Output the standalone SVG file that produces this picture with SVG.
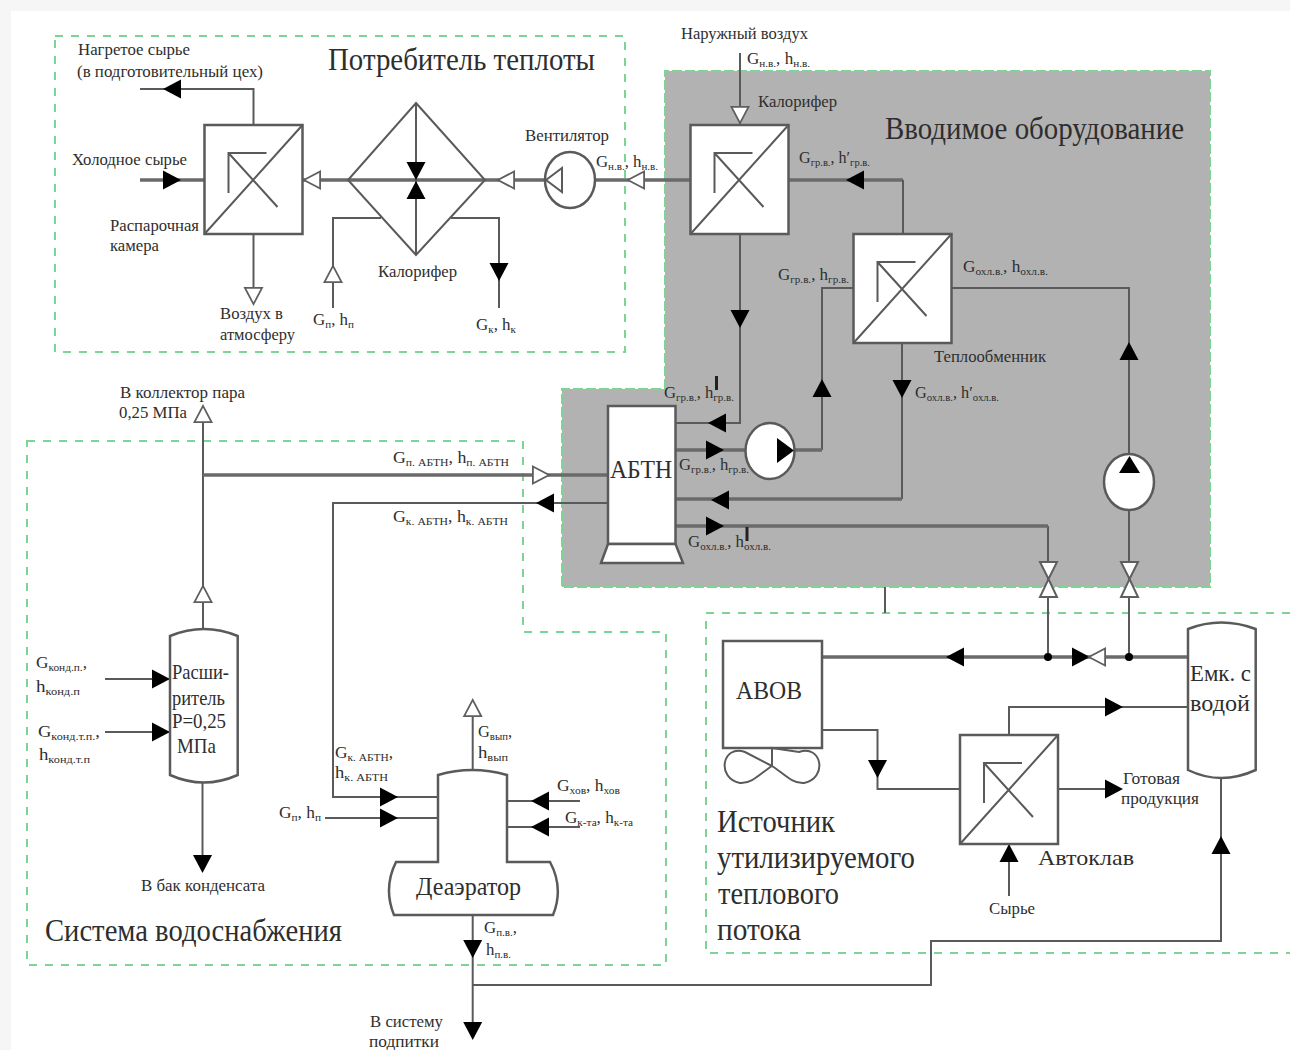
<svg xmlns="http://www.w3.org/2000/svg" xmlns:xlink="http://www.w3.org/1999/xlink" width="1290" height="1050" viewBox="0 0 1290 1050">
<style>
text{font-family:"Liberation Serif","Times New Roman",serif;fill:#2e2e2e}
.s{font-size:16px}
.m{font-size:22px}
.b{font-size:31px;fill:#2e2e2e}
.u{font-size:10.5px}
.l{fill:none;stroke:#5a5a5a;stroke-width:2}
.h{fill:none;stroke:#6a6a6a;stroke-width:3.500}
.d{fill:none;stroke:#7ad692;stroke-width:2;stroke-dasharray:8 8}
.w{fill:#fff;stroke:#5a5a5a;stroke-width:2.500}
.t{fill:none;stroke:#5a5a5a;stroke-width:2}
.k{fill:#000;stroke:none}
.o{fill:#fff;stroke:#5f5f5f;stroke-width:2}
</style>
<defs>
<path id="a" d="M-9,-9.500 L9,0 L-9,9.500Z"/>
<g id="hx">
<rect class="w" x="0" y="0" width="98" height="109"/>
<path class="t" d="M0,109 L98,0 M62,28 H24 V68 M24,28 L73,82"/>
</g>
</defs>
<rect width="1290" height="1050" fill="#f6f6f6"/>
<rect x="11" y="11" width="1279" height="1039" fill="#fff"/>

<g id="regions">
<path fill="#b2b2b2" d="M665,71 H1210 V587 H562 V389 H665Z"/>
<path class="d" style="stroke-dasharray:10 3" d="M665,389 V71 H1210 V587 H562 V389 H665"/>
<rect class="d" x="55" y="36" width="570" height="316"/>
<path class="d" d="M27,441 H523 V632 H666 V965 H27Z"/>
<path class="d" d="M1290,613 H706 V953 H1290"/>
</g>

<g id="connectors">
<path class="l" d="M253.500,125 V89 H140"/>
<path class="h" d="M140,180 H204"/>
<path class="h" d="M303,180 H545 M595,180 H690"/>
<path class="l" d="M253.500,235 V303"/>
<path class="l" d="M416,103 V255"/>
<path class="l" d="M381,218 H333 V308"/>
<path class="l" d="M451,218 H499 V308"/>
<path class="l" d="M740,53 V125"/>
<path class="l" d="M740,235 V423 H676"/>
<path class="h" d="M788,180 H903"/>
<path class="l" d="M903,180 V234"/>
<path class="l" d="M853,288 H822 V450"/>
<path class="h" d="M822,450 H795 M745,450 H676"/>
<path class="l" d="M951,288 H1129 V510 V657"/>
<path class="l" d="M902,343 V499"/>
<path class="h" d="M902,499 H676"/>
<path class="l" d="M1048,526 V657"/>
<path class="h" d="M676,526 H1048"/>
<path class="l" d="M203,630 V423"/>
<path class="h" d="M203,475 H608"/>
<path class="l" d="M608,503 H333 V797 H438"/>
<path class="l" d="M325,818 H438"/>
<path class="l" d="M507,801 H580 M507,827 H580"/>
<path class="l" d="M472.700,775 V717"/>
<path class="l" d="M472.700,915 V1030"/>
<path class="l" d="M472.700,985 H931 V941 H1221 V778"/>
<path class="l" d="M202.500,782 V860"/>
<path class="l" d="M105,679 H170 M105,732 H170"/>
<path class="h" d="M1188,657 H822"/>
<path class="l" d="M822,730 H877.500 V789 H960"/>
<path class="l" d="M1009,735 V707 H1188"/>
<path class="l" d="M1058,789 H1110"/>
<path class="l" d="M1009,843 V896"/>
<path class="l" d="M885,587 V613"/>
<g class="k">
<use xlink:href="#a" href="#a" transform="translate(172,89) rotate(180)"/>
<use xlink:href="#a" href="#a" transform="translate(172,180)"/>
<use xlink:href="#a" href="#a" transform="translate(416,171) rotate(90)"/>
<use xlink:href="#a" href="#a" transform="translate(416,190) rotate(-90)"/>
<use xlink:href="#a" href="#a" transform="translate(499,272) rotate(90)"/>
<use xlink:href="#a" href="#a" transform="translate(740,319) rotate(90)"/>
<use xlink:href="#a" href="#a" transform="translate(855,180) rotate(180)"/>
<use xlink:href="#a" href="#a" transform="translate(822,388) rotate(-90)"/>
<use xlink:href="#a" href="#a" transform="translate(902,389) rotate(90)"/>
<use xlink:href="#a" href="#a" transform="translate(1129,351) rotate(-90)"/>
<use xlink:href="#a" href="#a" transform="translate(717,423) rotate(180)"/>
<use xlink:href="#a" href="#a" transform="translate(715,450)"/>
<use xlink:href="#a" href="#a" transform="translate(720,500) rotate(180)"/>
<use xlink:href="#a" href="#a" transform="translate(715,526)"/>
<use xlink:href="#a" href="#a" transform="translate(545,503) rotate(180)"/>
<use xlink:href="#a" href="#a" transform="translate(389,797)"/>
<use xlink:href="#a" href="#a" transform="translate(389,818)"/>
<use xlink:href="#a" href="#a" transform="translate(540,801) rotate(180)"/>
<use xlink:href="#a" href="#a" transform="translate(540,827) rotate(180)"/>
<use xlink:href="#a" href="#a" transform="translate(472.700,949) rotate(90)"/>
<use xlink:href="#a" href="#a" transform="translate(472.700,1031) rotate(90)"/>
<use xlink:href="#a" href="#a" transform="translate(202.500,864) rotate(90)"/>
<use xlink:href="#a" href="#a" transform="translate(161,679)"/>
<use xlink:href="#a" href="#a" transform="translate(161,732)"/>
<use xlink:href="#a" href="#a" transform="translate(955,657) rotate(180)"/>
<use xlink:href="#a" href="#a" transform="translate(1081,657)"/>
<use xlink:href="#a" href="#a" transform="translate(877.500,769) rotate(90)"/>
<use xlink:href="#a" href="#a" transform="translate(1114,707)"/>
<use xlink:href="#a" href="#a" transform="translate(1114,789)"/>
<use xlink:href="#a" href="#a" transform="translate(1009,853) rotate(-90)"/>
<use xlink:href="#a" href="#a" transform="translate(1221,845) rotate(-90)"/>
</g>
<g class="o">
<use xlink:href="#a" href="#a" transform="translate(312,180) rotate(180) scale(.9)"/>
<use xlink:href="#a" href="#a" transform="translate(506,180) rotate(180) scale(.9)"/>
<use xlink:href="#a" href="#a" transform="translate(636,180) rotate(180) scale(.9)"/>
<use xlink:href="#a" href="#a" transform="translate(333,274) rotate(-90) scale(.9)"/>
<use xlink:href="#a" href="#a" transform="translate(253.500,296) rotate(90) scale(.9)"/>
<use xlink:href="#a" href="#a" transform="translate(740,115) rotate(90) scale(.9)"/>
<use xlink:href="#a" href="#a" transform="translate(203,414) rotate(-90) scale(.9)"/>
<use xlink:href="#a" href="#a" transform="translate(203,594) rotate(-90) scale(.9)"/>
<use xlink:href="#a" href="#a" transform="translate(541,475) scale(.9)"/>
<use xlink:href="#a" href="#a" transform="translate(472.700,708) rotate(-90) scale(.9)"/>
<use xlink:href="#a" href="#a" transform="translate(1097,657) rotate(180) scale(.9)"/>
</g>
<circle class="k" cx="1048" cy="657" r="4"/>
<circle class="k" cx="1129" cy="657" r="4"/>
</g>

<g id="consumer-exchanger"><use xlink:href="#hx" href="#hx" transform="translate(204.500,125)"/></g>
<g id="consumer-heater">
<path class="t" d="M416,103 L485,180 L416,255 L348,180Z"/>
</g>
<g id="fan">
<ellipse class="w" cx="570" cy="180" rx="25" ry="28"/>
<path class="t" d="M546,180 L562,168 V192Z"/>
</g>
<g id="heater"><use xlink:href="#hx" href="#hx" transform="translate(690.500,125)"/></g>
<g id="heat-exchanger"><use xlink:href="#hx" href="#hx" transform="translate(853.500,234)"/></g>
<g id="abtn">
<rect class="w" x="608" y="406" width="67.500" height="138"/>
<path class="w" d="M608,544 H675.500 L683,563 H601Z"/>
<text class="m" x="610" y="478" style="font-size:26px" textLength="62" lengthAdjust="spacingAndGlyphs">АБТН</text>
</g>
<g id="pump1">
<ellipse class="w" cx="770" cy="451" rx="24.500" ry="28"/>
<path class="k" d="M777,438 L794,450.500 L777,463Z"/>
</g>
<g id="pump2">
<ellipse class="w" cx="1129" cy="482" rx="25" ry="28"/>
<path class="k" d="M1119,473 L1129.500,456 L1140,473Z"/>
</g>
<g id="valve1">
<path class="o" d="M1040,562 H1057 L1048.500,579Z M1048.500,579 L1057,597 H1040Z"/>
</g>
<g id="valve2">
<path class="o" d="M1121,562 H1138 L1129.500,579Z M1129.500,579 L1138,597 H1121Z"/>
</g>
<g id="expander">
<path class="w" d="M170,636 Q204,622 237.700,636 V775 Q204,790 170,775Z"/>
<text class="m" x="172" y="679" textLength="57" lengthAdjust="spacingAndGlyphs">Расши-</text>
<text class="m" x="172" y="705" textLength="53" lengthAdjust="spacingAndGlyphs">ритель</text>
<text class="m" x="172" y="728" textLength="54" lengthAdjust="spacingAndGlyphs">P=0,25</text>
<text class="m" x="177" y="753" textLength="39" lengthAdjust="spacingAndGlyphs">МПа</text>
</g>
<g id="deaerator">
<path class="w" d="M438,775 Q472,765 507,775 V862 H550 Q564,888 553,915 H394 Q383,888 396,862 H438Z"/>
<text class="m" x="416" y="895" style="font-size:26px" textLength="105" lengthAdjust="spacingAndGlyphs">Деаэратор</text>
</g>
<g id="abob">
<rect class="w" x="723" y="641" width="99" height="107"/>
<path class="t" d="M772,748 V766 L745,752 C722,744 716,778 740,783 C752,784 762,772 772,766 C782,772 792,784 804,783 C828,778 822,744 799,752Z"/>
<text class="m" x="736" y="699" style="font-size:26px" textLength="66" lengthAdjust="spacingAndGlyphs">АВОВ</text>
</g>
<g id="autoclave"><use xlink:href="#hx" href="#hx" transform="translate(960,735)"/></g>
<g id="tank">
<path class="w" d="M1188,629 Q1221,616 1255.700,629 V770 Q1221,786 1188,770Z"/>
<text class="m" x="1190" y="681" style="font-size:24px" textLength="61" lengthAdjust="spacingAndGlyphs">Емк. с</text>
<text class="m" x="1190" y="711" style="font-size:24px" textLength="60" lengthAdjust="spacingAndGlyphs">водой</text>
</g>

<g id="labels">
<text class="b" x="328" y="70" textLength="267" lengthAdjust="spacingAndGlyphs">Потребитель теплоты</text>
<text class="b" x="885" y="139" textLength="299" lengthAdjust="spacingAndGlyphs">Вводимое оборудование</text>
<text class="b" x="45" y="941" textLength="297" lengthAdjust="spacingAndGlyphs">Система водоснабжения</text>
<text class="b" x="717" y="832" textLength="118" lengthAdjust="spacingAndGlyphs">Источник</text>
<text class="b" x="717" y="868" textLength="198" lengthAdjust="spacingAndGlyphs">утилизируемого</text>
<text class="b" x="718" y="904" textLength="121" lengthAdjust="spacingAndGlyphs">теплового</text>
<text class="b" x="717" y="940" textLength="84" lengthAdjust="spacingAndGlyphs">потока</text>

<text class="s" x="78" y="55" textLength="112" lengthAdjust="spacingAndGlyphs">Нагретое сырье</text>
<text class="s" x="77" y="77" textLength="186" lengthAdjust="spacingAndGlyphs">(в подготовительный цех)</text>
<text class="s" x="72" y="165" textLength="115" lengthAdjust="spacingAndGlyphs">Холодное сырье</text>
<text class="s" x="110" y="231" textLength="89" lengthAdjust="spacingAndGlyphs">Распарочная</text>
<text class="s" x="110" y="251" textLength="49" lengthAdjust="spacingAndGlyphs">камера</text>
<text class="s" x="220" y="319" textLength="63" lengthAdjust="spacingAndGlyphs">Воздух в</text>
<text class="s" x="220" y="340" textLength="75" lengthAdjust="spacingAndGlyphs">атмосферу</text>
<text class="s" x="378" y="277" textLength="79" lengthAdjust="spacingAndGlyphs">Калорифер</text>
<text class="s" x="525" y="141" textLength="84" lengthAdjust="spacingAndGlyphs">Вентилятор</text>
<text class="s" x="596" y="167" textLength="62" lengthAdjust="spacingAndGlyphs">G<tspan class="u" dy="3">н.в.</tspan><tspan dy="-3">, h</tspan><tspan class="u" dy="3">н.в.</tspan></text>
<text class="s" x="313" y="325" textLength="41" lengthAdjust="spacingAndGlyphs">G<tspan class="u" dy="3">п</tspan><tspan dy="-3">, h</tspan><tspan class="u" dy="3">п</tspan></text>
<text class="s" x="476" y="330" textLength="40" lengthAdjust="spacingAndGlyphs">G<tspan class="u" dy="3">к</tspan><tspan dy="-3">, h</tspan><tspan class="u" dy="3">к</tspan></text>

<text class="s" x="681" y="39" textLength="127" lengthAdjust="spacingAndGlyphs">Наружный воздух</text>
<text class="s" x="747" y="64" textLength="63" lengthAdjust="spacingAndGlyphs">G<tspan class="u" dy="3">н.в.</tspan><tspan dy="-3">, h</tspan><tspan class="u" dy="3">н.в.</tspan></text>
<text class="s" x="758" y="107" textLength="79" lengthAdjust="spacingAndGlyphs">Калорифер</text>
<text class="s" x="799" y="163" textLength="71" lengthAdjust="spacingAndGlyphs">G<tspan class="u" dy="3">гр.в.</tspan><tspan dy="-3">, h′</tspan><tspan class="u" dy="3">гр.в.</tspan></text>
<text class="s" x="778" y="280" textLength="71" lengthAdjust="spacingAndGlyphs">G<tspan class="u" dy="3">гр.в.</tspan><tspan dy="-3">, h</tspan><tspan class="u" dy="3">гр.в.</tspan></text>
<text class="s" x="963" y="272" textLength="85" lengthAdjust="spacingAndGlyphs">G<tspan class="u" dy="3">охл.в.</tspan><tspan dy="-3">, h</tspan><tspan class="u" dy="3">охл.в.</tspan></text>
<text class="s" x="934" y="362" textLength="112" lengthAdjust="spacingAndGlyphs">Теплообменник</text>
<text class="s" x="915" y="398" textLength="84" lengthAdjust="spacingAndGlyphs">G<tspan class="u" dy="3">охл.в.</tspan><tspan dy="-3">, h′</tspan><tspan class="u" dy="3">охл.в.</tspan></text>
<text class="s" x="664" y="398" textLength="70" lengthAdjust="spacingAndGlyphs">G<tspan class="u" dy="3">гр.в.</tspan><tspan dy="-3">, h</tspan><tspan class="u" dy="3">гр.в.</tspan></text>
<text class="s" x="679" y="470" textLength="70" lengthAdjust="spacingAndGlyphs">G<tspan class="u" dy="3">гр.в.</tspan><tspan dy="-3">, h</tspan><tspan class="u" dy="3">гр.в.</tspan></text>
<text class="s" x="688" y="547" textLength="83" lengthAdjust="spacingAndGlyphs">G<tspan class="u" dy="3">охл.в.</tspan><tspan dy="-3">, h</tspan><tspan class="u" dy="3">охл.в.</tspan></text>
<path stroke="#222" stroke-width="3" d="M716.500,376 V390 M747,527 V541"/>

<text class="s" x="120" y="398" textLength="125" lengthAdjust="spacingAndGlyphs">В коллектор пара</text>
<text class="s" x="119" y="418" textLength="68" lengthAdjust="spacingAndGlyphs">0,25 МПа</text>
<text class="s" x="393" y="463" textLength="116" lengthAdjust="spacingAndGlyphs">G<tspan class="u" dy="3">п. АБТН</tspan><tspan dy="-3">, h</tspan><tspan class="u" dy="3">п. АБТН</tspan></text>
<text class="s" x="393" y="522" textLength="115" lengthAdjust="spacingAndGlyphs">G<tspan class="u" dy="3">к. АБТН</tspan><tspan dy="-3">, h</tspan><tspan class="u" dy="3">к. АБТН</tspan></text>
<text class="s" x="36" y="668" textLength="51" lengthAdjust="spacingAndGlyphs">G<tspan class="u" dy="3">конд.п.</tspan><tspan dy="-3">,</tspan></text>
<text class="s" x="36" y="692" textLength="44" lengthAdjust="spacingAndGlyphs">h<tspan class="u" dy="3">конд.п</tspan></text>
<text class="s" x="38" y="737" textLength="62" lengthAdjust="spacingAndGlyphs">G<tspan class="u" dy="3">конд.т.п.</tspan><tspan dy="-3">,</tspan></text>
<text class="s" x="39" y="760" textLength="51" lengthAdjust="spacingAndGlyphs">h<tspan class="u" dy="3">конд.т.п</tspan></text>
<text class="s" x="141" y="891" textLength="124" lengthAdjust="spacingAndGlyphs">В бак конденсата</text>
<text class="s" x="335" y="758" textLength="58" lengthAdjust="spacingAndGlyphs">G<tspan class="u" dy="3">к. АБТН</tspan><tspan dy="-3">,</tspan></text>
<text class="s" x="335" y="778" textLength="53" lengthAdjust="spacingAndGlyphs">h<tspan class="u" dy="3">к. АБТН</tspan></text>
<text class="s" x="279" y="818" textLength="42" lengthAdjust="spacingAndGlyphs">G<tspan class="u" dy="3">п</tspan><tspan dy="-3">, h</tspan><tspan class="u" dy="3">п</tspan></text>
<text class="s" x="478" y="737" textLength="34" lengthAdjust="spacingAndGlyphs">G<tspan class="u" dy="3">вып</tspan><tspan dy="-3">,</tspan></text>
<text class="s" x="478" y="758" textLength="30" lengthAdjust="spacingAndGlyphs">h<tspan class="u" dy="3">вып</tspan></text>
<text class="s" x="557" y="791" textLength="63" lengthAdjust="spacingAndGlyphs">G<tspan class="u" dy="3">хов</tspan><tspan dy="-3">, h</tspan><tspan class="u" dy="3">хов</tspan></text>
<text class="s" x="565" y="823" textLength="68" lengthAdjust="spacingAndGlyphs">G<tspan class="u" dy="3">к-та</tspan><tspan dy="-3">, h</tspan><tspan class="u" dy="3">к-та</tspan></text>
<text class="s" x="484" y="933" textLength="33" lengthAdjust="spacingAndGlyphs">G<tspan class="u" dy="3">п.в.</tspan><tspan dy="-3">,</tspan></text>
<text class="s" x="486" y="955" textLength="25" lengthAdjust="spacingAndGlyphs">h<tspan class="u" dy="3">п.в.</tspan></text>
<text class="s" x="370" y="1027" textLength="73" lengthAdjust="spacingAndGlyphs">В систему</text>
<text class="s" x="369" y="1047" textLength="70" lengthAdjust="spacingAndGlyphs">подпитки</text>
<text class="s" x="1123" y="784" textLength="57" lengthAdjust="spacingAndGlyphs">Готовая</text>
<text class="s" x="1121" y="804" textLength="78" lengthAdjust="spacingAndGlyphs">продукция</text>
<text class="m" x="1038" y="865" textLength="96" lengthAdjust="spacingAndGlyphs">Автоклав</text>
<text class="s" x="989" y="914" textLength="46" lengthAdjust="spacingAndGlyphs">Сырье</text>
</g>
</svg>
